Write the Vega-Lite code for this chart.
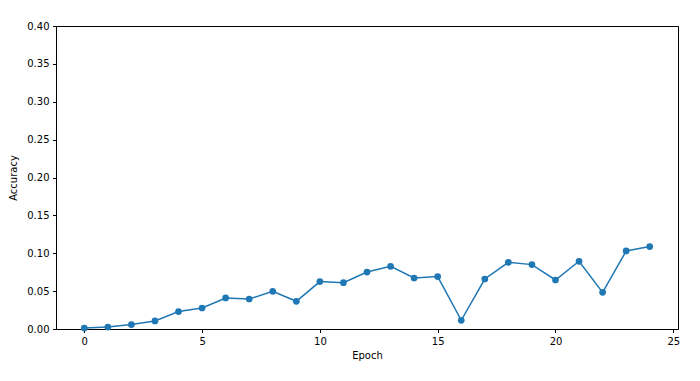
{
  "$schema": "https://vega.github.io/schema/vega-lite/v6.json",
  "width": 622,
  "height": 303,
  "autosize": {"type": "none"},
  "padding": {"left": 56, "top": 26, "right": 22, "bottom": 52},
  "background": "white",
  "config": {
    "font": "DejaVu Sans",
    "view": {"stroke": "black", "strokeWidth": 1},
    "axis": {
      "grid": false,
      "domainColor": "black",
      "tickColor": "black",
      "tickSize": 3.5,
      "labelPadding": 3.5,
      "labelFont": "DejaVu Sans",
      "labelFontSize": 10,
      "labelColor": "black",
      "titleFont": "DejaVu Sans",
      "titleFontSize": 10,
      "titleFontWeight": "normal",
      "titleColor": "black"
    }
  },
  "data": {
    "values": [
      {"epoch": 0, "accuracy": 0.0013},
      {"epoch": 1, "accuracy": 0.0026},
      {"epoch": 2, "accuracy": 0.0058},
      {"epoch": 3, "accuracy": 0.0106},
      {"epoch": 4, "accuracy": 0.023},
      {"epoch": 5, "accuracy": 0.0277},
      {"epoch": 6, "accuracy": 0.041},
      {"epoch": 7, "accuracy": 0.0396},
      {"epoch": 8, "accuracy": 0.0498},
      {"epoch": 9, "accuracy": 0.0366},
      {"epoch": 10, "accuracy": 0.0626},
      {"epoch": 11, "accuracy": 0.0612},
      {"epoch": 12, "accuracy": 0.0752},
      {"epoch": 13, "accuracy": 0.0828},
      {"epoch": 14, "accuracy": 0.0673},
      {"epoch": 15, "accuracy": 0.0692},
      {"epoch": 16, "accuracy": 0.0115},
      {"epoch": 17, "accuracy": 0.066},
      {"epoch": 18, "accuracy": 0.088},
      {"epoch": 19, "accuracy": 0.085},
      {"epoch": 20, "accuracy": 0.0647},
      {"epoch": 21, "accuracy": 0.0894},
      {"epoch": 22, "accuracy": 0.0484},
      {"epoch": 23, "accuracy": 0.103},
      {"epoch": 24, "accuracy": 0.1088}
    ]
  },
  "encoding": {
    "x": {
      "field": "epoch",
      "type": "quantitative",
      "title": "Epoch",
      "scale": {"domain": [-1.2, 25.2], "nice": false, "zero": false},
      "axis": {"values": [0, 5, 10, 15, 20, 25], "titlePadding": 4}
    },
    "y": {
      "field": "accuracy",
      "type": "quantitative",
      "title": "Accuracy",
      "scale": {"domain": [0, 0.4], "nice": false},
      "axis": {"values": [0, 0.05, 0.1, 0.15, 0.2, 0.25, 0.3, 0.35, 0.4], "format": ".2f", "titlePadding": 8}
    }
  },
  "layer": [
    {"mark": {"type": "line", "color": "#1f77b4", "strokeWidth": 1.5, "clip": true}},
    {"mark": {"type": "point", "shape": "circle", "filled": true, "opacity": 1, "color": "#1f77b4", "size": 45}}
  ]
}
